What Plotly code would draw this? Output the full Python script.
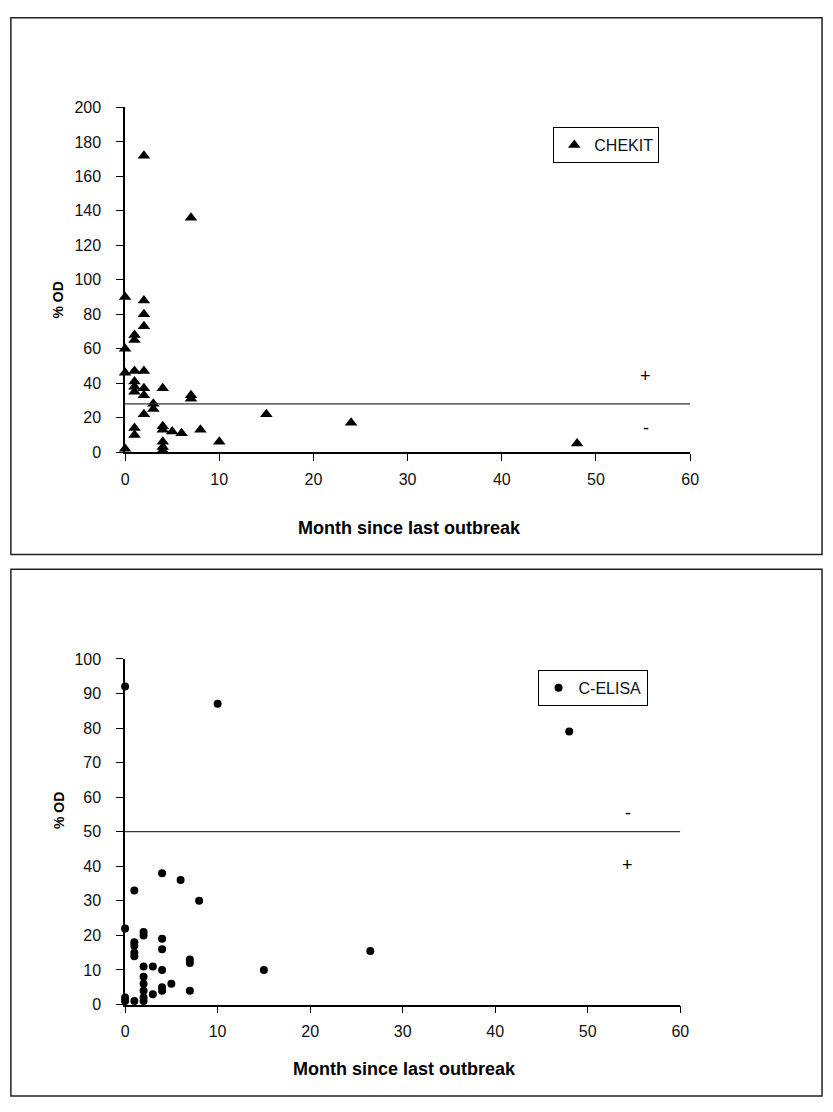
import plotly.graph_objects as go

W, H = 833, 1112

# ---- Data: CHEKIT (top panel) ----
months_chekit = [2, 7, 0, 2, 2, 2, 1, 1, 0, 0, 1, 2, 1, 1, 1, 2, 2, 3, 3, 4,
                 7, 7, 2, 1, 1, 4, 4, 5, 6, 8, 10, 4, 4, 4, 0, 15, 24, 48]
od_chekit = [172, 136, 90, 88, 80, 73, 68, 65, 60, 46, 47, 47, 41, 38, 35, 37, 33, 28, 25, 37,
             33, 31, 22, 14, 10, 15, 13, 12, 11, 13, 6, 6, 3, 1, 2, 22, 17, 5]
cutoff_chekit = 28

# ---- Data: C-ELISA (bottom panel) ----
months_celisa = [0, 10, 48, 4, 6, 1, 8, 0, 2, 2, 1, 1, 1, 1, 4, 4, 2, 3, 4, 7,
                 7, 2, 2, 2, 2, 2, 5, 4, 4, 3, 7, 1, 0, 0, 15, 26.5]
od_celisa = [92, 87, 79, 38, 36, 33, 30, 22, 21, 20, 18, 17, 15, 14, 19, 16, 11, 11, 10, 13,
             12, 8, 6, 4, 2, 1, 6, 5, 4, 3, 4, 1, 2, 1, 10, 15.5]
cutoff_celisa = 50

x_ticks = [0, 10, 20, 30, 40, 50, 60]
y_ticks_chekit = list(range(0, 201, 20))
y_ticks_celisa = list(range(0, 101, 10))


def px(x):
    return x / W


def py(y):
    return 1 - y / H


FONT = "Liberation Sans, Arial, sans-serif"
NARROW = "Liberation Sans Narrow, Liberation Sans, Arial"

fig = go.Figure()
fig.add_trace(go.Scatter(
    x=months_chekit, y=od_chekit, mode="markers", name="CHEKIT",
    marker=dict(symbol="triangle-up", size=11, color="black"),
    xaxis="x", yaxis="y", legend="legend", cliponaxis=False))
fig.add_trace(go.Scatter(
    x=months_celisa, y=od_celisa, mode="markers", name="C-ELISA",
    marker=dict(symbol="circle", size=8, color="black"),
    xaxis="x2", yaxis="y2", legend="legend2", cliponaxis=False))

axis_common = dict(showgrid=False, zeroline=False, showline=True, linecolor="black",
                   linewidth=1.5, ticks="outside", ticklen=7, tickcolor="black",
                   tickwidth=1, tickfont=dict(family=FONT, size=16, color="#111"))

fig.update_layout(
    width=W, height=H, margin=dict(l=0, r=0, t=0, b=0),
    paper_bgcolor="white", plot_bgcolor="white",
    xaxis=dict(domain=[px(123), px(697)], anchor="y", range=[0, 60],
               tickvals=x_ticks, ticklabelstandoff=5, **axis_common),
    yaxis=dict(domain=[py(451), py(101)], anchor="x", range=[0, 200],
               tickvals=y_ticks_chekit, ticklabelstandoff=12, **axis_common),
    xaxis2=dict(domain=[px(123), px(687)], anchor="y2", range=[0, 60],
                tickvals=x_ticks, ticklabelstandoff=5, **axis_common),
    yaxis2=dict(domain=[py(1012), py(661)], anchor="x2", range=[0, 100],
                tickvals=y_ticks_celisa, ticklabelstandoff=12, **axis_common),
    legend=dict(x=px(558), y=py(121), xanchor="left", yanchor="top",
                bordercolor="black", borderwidth=1, bgcolor="white",
                font=dict(family=FONT, size=16, color="#111"), itemwidth=30),
    legend2=dict(x=px(542), y=py(672), xanchor="left", yanchor="top",
                 bordercolor="black", borderwidth=1, bgcolor="white",
                 font=dict(family=FONT, size=16, color="#111"), itemwidth=30),
    showlegend=True,
)

# panel frames
for (top, bottom) in [(10, 555), (570, 1105)]:
    fig.add_shape(type="rect", xref="paper", yref="paper",
                  x0=px(7), x1=px(831), y0=py(bottom), y1=py(top),
                  line=dict(color="#222", width=1.5), layer="below")

# cut-off lines
fig.add_shape(type="line", xref="x", yref="y", x0=0, x1=60,
              y0=cutoff_chekit, y1=cutoff_chekit, line=dict(color="#333", width=1.2))
fig.add_shape(type="line", xref="x2", yref="y2", x0=0, x1=60,
              y0=cutoff_celisa, y1=cutoff_celisa, line=dict(color="#333", width=1.2))

ann = []
sign_font = dict(family=FONT, size=18, color="black")
ann.append(dict(xref="x", yref="y", x=55.3, y=44, text="+", showarrow=False, font=sign_font))
ann.append(dict(xref="x", yref="y", x=55.3, y=14, text="-", showarrow=False, font=sign_font))
ann.append(dict(xref="x2", yref="y2", x=54.3, y=55.5, text="-", showarrow=False, font=sign_font))
ann.append(dict(xref="x2", yref="y2", x=54.3, y=40.5, text="+", showarrow=False, font=sign_font))

title_font = dict(family=NARROW, size=18, color="black")
for (xc, yc) in [(412, 528), (407, 1090)]:
    ann.append(dict(xref="paper", yref="paper", x=px(xc), y=py(yc),
                    text="<b>Month since last outbreak</b>", showarrow=False, font=title_font))
for yc in [276, 836]:
    ann.append(dict(xref="paper", yref="paper", x=px(45), y=py(yc),
                    text="<b>% OD</b>", showarrow=False, textangle=-90,
                    font=dict(family=FONT, size=14, color="black")))
fig.update_layout(annotations=ann)

fig.write_html("out.html", config={"displayModeBar": False},
               post_script="document.body.style.margin='0';")
